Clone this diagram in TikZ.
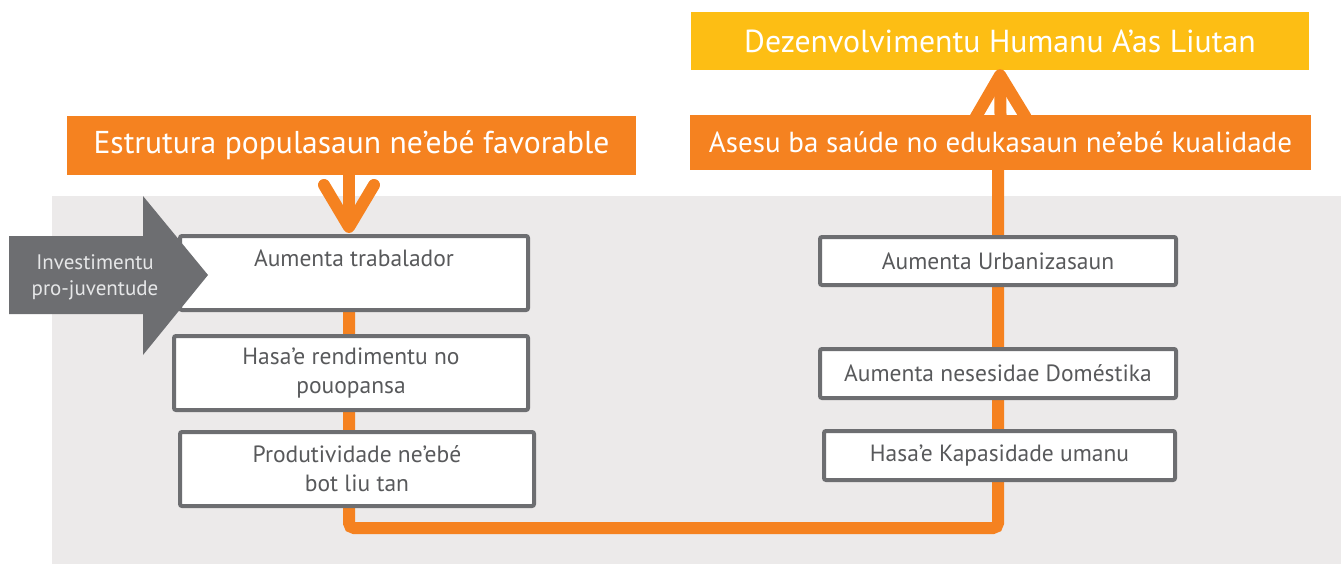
\documentclass[tikz,border=0pt]{standalone}
\usepackage{fontspec}
\setmainfont{PT Sans}
\usetikzlibrary{arrows.meta}
\pgfdeclarelayer{bottom}
\pgfdeclarelayer{background}
\pgfsetlayers{bottom,background,main}
\definecolor{orng}{HTML}{F58220}
\definecolor{yllw}{HTML}{FDBE14}
\definecolor{bggray}{HTML}{ECEAEA}
\definecolor{bordgray}{HTML}{6D6E71}
\definecolor{txtgray}{HTML}{58595B}
\definecolor{lightt}{HTML}{E6E7E8}
\tikzset{
  wbox/.style={draw=bordgray, line width=4pt, fill=white, rounded corners=2pt,
    inner sep=0pt, align=center, text=txtgray,
    font=\fontsize{23.5}{29}\selectfont},
  obox/.style={fill=orng, inner sep=0pt, text=white, align=center},
  ybox/.style={fill=yllw, inner sep=0pt, text=white, align=center},
  oline/.style={draw=orng, line width=12pt, rounded corners=5pt},
  oarrow/.style={draw=orng, line width=12pt, line cap=round,
    -{Straight Barb[length=42pt, width=50pt, round]}},
}
\begin{document}
\begin{tikzpicture}[x=1pt,y=-1pt]
\useasboundingbox (0,0) rectangle (1341,564);
% background
\begin{pgfonlayer}{bottom}
\fill[bggray] (52,196) rectangle (1341,564);
\end{pgfonlayer}
% top boxes
\node[ybox, minimum width=618pt, minimum height=58pt, font=\fontsize{31.8}{36}\selectfont]
  (ya) at (1000,41) {Dezenvolvimentu Humanu A’as Liutan};
\node[obox, minimum width=569pt, minimum height=59pt, font=\fontsize{31.6}{38}\selectfont]
  (la) at (351.5,145.5) {Estrutura populasaun ne’ebé favorable};
\node[obox, minimum width=621pt, minimum height=55pt, font=\fontsize{29}{34}\selectfont]
  (ra) at (1000.5,142.5) {Asesu ba saúde no edukasaun ne’ebé kualidade};
% coordinates for orange path
\coordinate (cl) at (349,528);
\coordinate (cr) at (998,528);
% left boxes
\node[wbox, minimum width=348pt, minimum height=74pt] (b1) at (354,273) {Aumenta trabalador\\\mbox{}};
\node[wbox, minimum width=354pt, minimum height=74pt] (b2) at (351,373) {Hasa’e rendimentu no\\pouopansa};
\node[wbox, minimum width=354pt, minimum height=74pt] (b3) at (357,469) {Produtividade ne’ebé\\bot liu tan};
% right boxes
\node[wbox, minimum width=356pt, minimum height=48pt] (r1) at (998,261) {Aumenta Urbanizasaun};
\node[wbox, minimum width=356pt, minimum height=49pt] (r2) at (998,373.5) {Aumenta nesesidae Doméstika};
\node[wbox, minimum width=351pt, minimum height=49pt] (r3) at (999.5,455.5) {Hasa’e Kapasidade umanu};
% orange connector behind boxes
\begin{pgfonlayer}{background}
\draw[oline] (b1.south -| cl) -- (cl) -- (cr) -- (cr |- ra.south);
\end{pgfonlayer}
% arrows
\draw[oarrow] (la.south -| cl) -- ([yshift=1pt]b1.north -| cl);
\draw[oarrow] (ra.north) -- ([yshift=1pt]ya.south);
% gray arrow
\fill[bordgray] (9,236) -- (143,236) -- (143,196) -- (208,275) -- (143,355) -- (143,314) -- (9,314) -- cycle;
\node[text=lightt, align=center, font=\fontsize{21}{26}\selectfont] (inv) at (95,277) {Investimentu\\pro-juventude};
\end{tikzpicture}
\end{document}
